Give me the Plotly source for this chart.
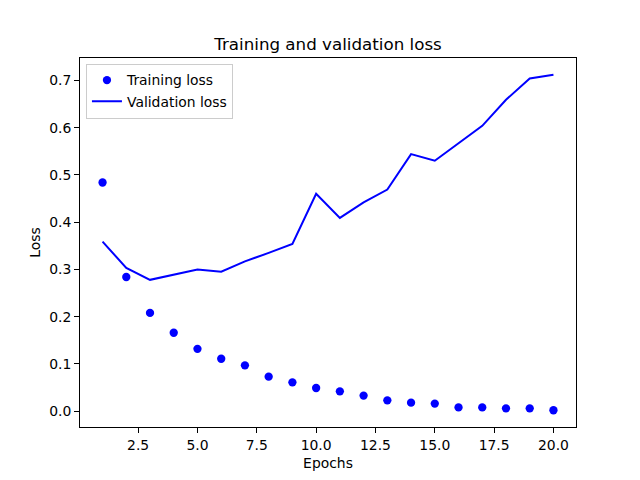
import plotly.graph_objects as go

epochs = list(range(1, 21))
training_loss = [0.484, 0.284, 0.208, 0.166, 0.132, 0.111, 0.097, 0.073, 0.061, 0.049,
                 0.042, 0.033, 0.023, 0.018, 0.016, 0.008, 0.008, 0.006, 0.006, 0.002]
validation_loss = [0.359, 0.303, 0.278, 0.289, 0.300, 0.295, 0.317, 0.335, 0.354, 0.460,
                   0.409, 0.442, 0.469, 0.544, 0.530, 0.567, 0.604, 0.659, 0.704, 0.712]
x_ticks = [2.5, 5.0, 7.5, 10.0, 12.5, 15.0, 17.5, 20.0]
y_ticks = [0.0, 0.1, 0.2, 0.3, 0.4, 0.5, 0.6, 0.7]

fig = go.Figure()
fig.add_trace(go.Scatter(x=epochs, y=training_loss, mode="markers", name="Training loss",
                         marker=dict(color="blue", size=8.3)))
fig.add_trace(go.Scatter(x=epochs, y=validation_loss, mode="lines", name="Validation loss",
                         line=dict(color="blue", width=2)))

axis_common = dict(showline=True, linecolor="black", linewidth=1, mirror=True,
                   ticks="outside", ticklen=5, tickwidth=1, tickcolor="black",
                   showgrid=False, zeroline=False, automargin=False,
                   tickfont=dict(size=13.9, color="black"))

W, H = 632, 472
fig.update_layout(
    width=W, height=H,
    margin=dict(l=72, r=64, t=49.6, b=52.8),
    paper_bgcolor="white", plot_bgcolor="white",
    font=dict(family="DejaVu Sans", color="black"),
    title=dict(text="Training and validation loss", x=(328 - 8) / W, xanchor="center",
               y=1 - 36 / H, yanchor="middle", font=dict(size=16.7), automargin=False),
    xaxis=dict(range=[0.05, 20.95], tickvals=x_ticks, tickformat=".1f",
               title=dict(text="Epochs", font=dict(size=13.9), standoff=6), **axis_common),
    yaxis=dict(range=[-0.0335, 0.7475], tickvals=y_ticks, tickformat=".1f",
               title=dict(text="Loss", font=dict(size=13.9), standoff=5), **axis_common),
    legend=dict(x=0.012, y=0.985, xanchor="left", yanchor="top",
                bordercolor="#cccccc", borderwidth=1, bgcolor="rgba(255,255,255,0.8)",
                font=dict(size=13.9)),
    showlegend=True,
)

fig.write_html("out.html")
